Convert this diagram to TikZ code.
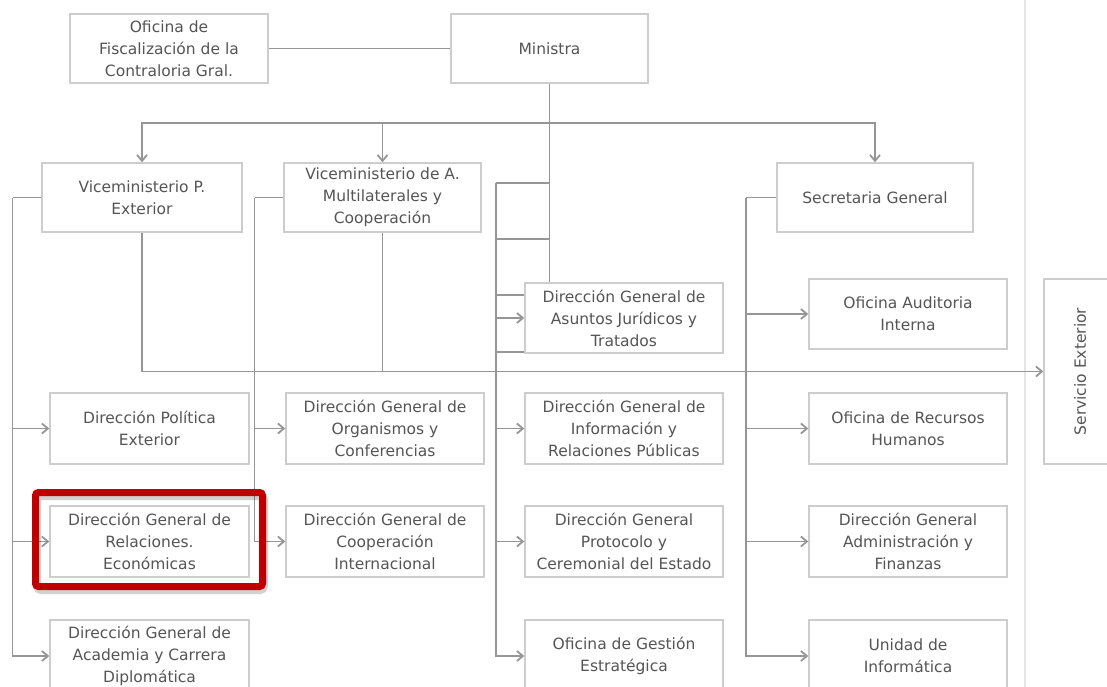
\documentclass[tikz,border=0pt]{standalone}
\usepackage{fontspec}
\setmainfont{DejaVu Sans}
\usetikzlibrary{arrows.meta}
\definecolor{txtc}{RGB}{85,85,85}
\definecolor{boxc}{RGB}{205,205,205}
\definecolor{linc}{RGB}{150,150,150}
\definecolor{sepc}{RGB}{230,230,230}
\definecolor{redc}{RGB}{192,0,0}
\begin{document}
\begin{tikzpicture}[x=1pt,y=-1pt,
  box/.style={draw=boxc, line width=1.4pt, fill=white, text=txtc, align=center,
    font=\fontsize{15.5}{22}\selectfont, inner sep=0pt, minimum width=198pt, minimum height=70pt},
  conn/.style={draw=linc, line width=1.8pt},
  arr/.style={conn, -{Straight Barb[length=6pt,width=10pt]}}]
\useasboundingbox (0,0) rectangle (1107,687);
\fill[white] (0,0) rectangle (1107,687);
% separator
\draw[sepc, line width=1.5pt] (1025,0) -- (1025,687);

% nodes
\node[box, minimum height=69pt] (ofi) at (169,48.5) {Oficina de\\Fiscalización de la\\Contraloria Gral.};
\node[box, minimum width=197pt, minimum height=69pt] (min) at (549.5,48.5) {Ministra};
\node[box, minimum width=200pt, minimum height=69pt] (vpe) at (142,197.5) {Viceministerio P.\\Exterior};
\node[box, minimum width=197pt, minimum height=69pt] (vam) at (382.5,197.5) {Viceministerio de A.\\Multilaterales y\\Cooperación};
\node[box, minimum width=196pt, minimum height=69pt] (sg) at (875,197.5) {Secretaria General};
\node[box] (dgaj) at (624,318) {Dirección General de\\Asuntos Jurídicos y\\Tratados};
\node[box] (oai) at (908,314) {Oficina Auditoria\\Interna};
\node[box, minimum width=72pt, minimum height=185pt] (se) at (1080,371.5) {\rotatebox{90}{Servicio Exterior}};
\node[box, minimum width=199pt, minimum height=71pt] (dpe) at (149.5,428.5) {Dirección Política\\Exterior};
\node[box, minimum height=71pt] (dgo) at (385,428.5) {Dirección General de\\Organismos y\\Conferencias};
\node[box, minimum height=71pt] (dgi) at (624,428.5) {Dirección General de\\Información y\\Relaciones Públicas};
\node[box, minimum height=71pt] (orh) at (908,428.5) {Oficina de Recursos\\Humanos};
\node[box, minimum width=199pt, minimum height=71pt] (dgre) at (149.5,541.5) {Dirección General de\\Relaciones.\\Económicas};
\node[box, minimum height=71pt] (dgc) at (385,541.5) {Dirección General de\\Cooperación\\Internacional};
\node[box, minimum height=71pt] (dgp) at (624,541.5) {Dirección General\\Protocolo y\\Ceremonial del Estado};
\node[box, minimum height=71pt] (dga) at (908,541.5) {Dirección General\\Administración y\\Finanzas};
\node[box, minimum width=199pt, minimum height=72pt] (dgac) at (149.5,656) {Dirección General de\\Academia y Carrera\\Diplomática};
\node[box, minimum height=72pt] (oge) at (624,656) {Oficina de Gestión\\Estratégica};
\node[box, minimum height=72pt] (ui) at (908,656) {Unidad de\\Informática};

% top connectors
\draw[conn] (ofi.east) -- (min.west);
\draw[conn] (min.south) -- (min.south |- dgaj.north);
\coordinate (hub) at (549.5,123);
\draw[arr] (hub) -| (vpe.north);
\draw[arr] (hub) -| (vam.north);
\draw[arr] (hub) -| (sg.north);

% left bus
\coordinate (lb) at (12.5,197.5);
\draw[conn] (vpe.west) -- (lb);
\draw[arr] (lb) |- (dgac.west);
\draw[arr] (lb |- dpe.west) -- (dpe.west);
\draw[arr] (lb |- dgre.west) -- (dgre.west);

% multilateral bus
\coordinate (mb) at (254.5,197.5);
\draw[conn] (vam.west) -- (mb);
\draw[arr] (mb) |- (dgc.west);
\draw[arr] (mb |- dgo.west) -- (dgo.west);

% third column bus
\coordinate (tb) at (496,183);
\coordinate (tb2) at (496,239);
\coordinate (aj1) at (496,295);
\coordinate (aj2) at (496,352);
\draw[conn] (min.south |- tb) -- (tb);
\draw[conn] (tb2) -- (min.south |- tb2);
\draw[conn] (aj1) -- (aj1 -| dgaj.west);
\draw[conn] (aj2) -- (aj2 -| dgaj.west);
\draw[arr] (tb) |- (oge.west);
\draw[arr] (tb |- dgaj.west) -- (dgaj.west);
\draw[arr] (tb |- dgi.west) -- (dgi.west);
\draw[arr] (tb |- dgp.west) -- (dgp.west);

% secretaria bus
\coordinate (sb) at (746,197.5);
\draw[conn] (sg.west) -- (sb);
\draw[arr] (sb) |- (ui.west);
\draw[arr] (sb |- oai.west) -- (oai.west);
\draw[arr] (sb |- orh.west) -- (orh.west);
\draw[arr] (sb |- dga.west) -- (dga.west);

% servicio exterior line
\draw[arr] (vpe.south) |- (se.west);
\draw[conn] (vam.south) -- (vam.south |- se.west);

% highlight
\draw[black, opacity=0.18, line width=8pt, rounded corners=4pt] (37,496) rectangle (264,590);
\draw[redc, line width=7pt, rounded corners=3pt] (35.5,492.5) rectangle (262.5,586.5);
\end{tikzpicture}
\end{document}
